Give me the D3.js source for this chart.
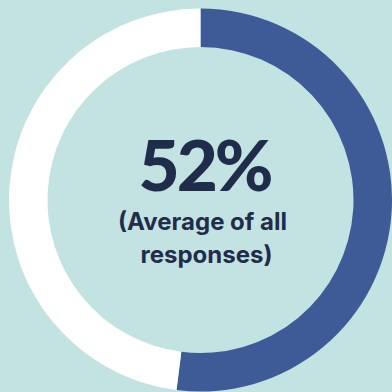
<!DOCTYPE html>
<html><head><meta charset="utf-8">
<script src="https://cdn.jsdelivr.net/npm/d3@7"></script>
<style>html,body{margin:0;padding:0;background:#c3e3e2;}svg{display:block;}</style>
</head><body>
<script>
const categories = ["Average of all responses", "Remainder"];
const values = [52, 48];
const label = "52%";
const subtitle = ["(Average of all", "responses)"];
const colors = ["#3e5b97", "#ffffff"];

const W = 392, H = 392;
const svg = d3.select("body").append("svg").attr("width", W).attr("height", H);
svg.append("rect").attr("width", W).attr("height", H).attr("fill", "#c3e3e2");
const g = svg.append("g").attr("transform", "translate(200.5,200)");
const pie = d3.pie().sort(null).value(d => d);
const arc = d3.arc().innerRadius(153).outerRadius(191.5);
g.selectAll("path").data(pie(values)).join("path")
  .attr("d", arc).attr("fill", (d, i) => colors[i]);

g.append("text").attr("x", 4).attr("y", -9).attr("text-anchor", "middle")
  .attr("font-family", "Lato, sans-serif").attr("font-weight", 900).attr("font-size", 71)
  .attr("letter-spacing", -3)
  .attr("fill", "#1f2d4a").text(label);
subtitle.forEach((t, i) => {
  g.append("text").attr("x", i ? 6 : 2).attr("y", 30 + i * 33).attr("text-anchor", "middle")
    .attr("font-family", "Inter, sans-serif").attr("font-weight", 700).attr("font-size", 24)
    .attr("fill", "#1f2d4a").text(t);
});
</script>
</body></html>
